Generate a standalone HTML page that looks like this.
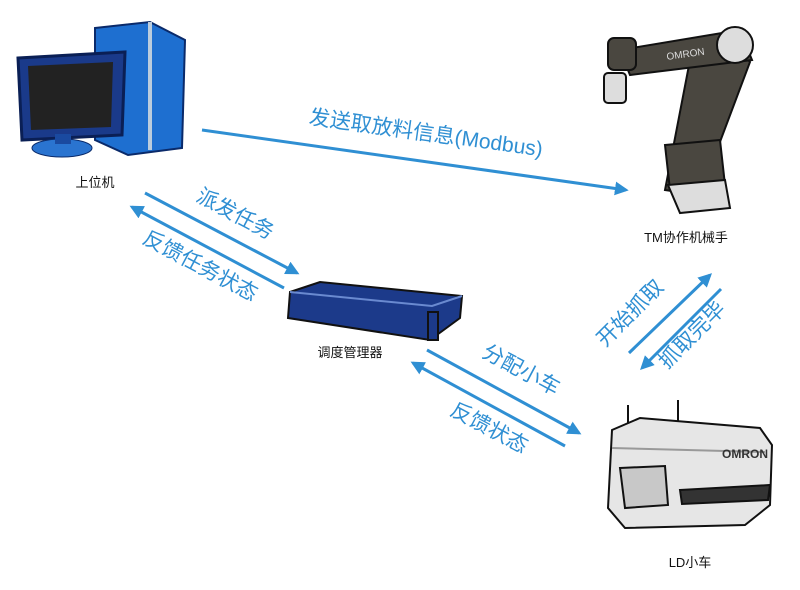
<!DOCTYPE html>
<html><head><meta charset="utf-8"><style>
html,body{margin:0;padding:0;background:#fff;width:800px;height:590px;overflow:hidden}
svg{display:block}
.l{font-family:"Liberation Sans","Noto Sans CJK SC",sans-serif;font-size:13px;fill:#111}
.b{font-family:"Liberation Sans","Noto Sans CJK SC",sans-serif;font-size:21px;fill:#2f8fd3}
</style></head><body>
<svg width="800" height="590" viewBox="0 0 800 590" xmlns="http://www.w3.org/2000/svg">
<defs>
<marker id="a" viewBox="0 0 10 10" refX="8" refY="5" markerWidth="4.6" markerHeight="4.6" orient="auto-start-reverse"><path d="M0,0 L10,5 L0,10 z" fill="#2f8fd3"/></marker>
</defs>
<g stroke="#2f8fd3" stroke-width="3" fill="none">
<line x1="202" y1="130" x2="626" y2="190" marker-end="url(#a)"/>
<line x1="145" y1="193" x2="297" y2="273" marker-end="url(#a)"/>
<line x1="284" y1="288" x2="132" y2="207" marker-end="url(#a)"/>
<line x1="427" y1="350" x2="579" y2="433" marker-end="url(#a)"/>
<line x1="565" y1="446" x2="413" y2="363" marker-end="url(#a)"/>
<line x1="629" y1="353" x2="710" y2="275" marker-end="url(#a)"/>
<line x1="721" y1="289" x2="642" y2="368" marker-end="url(#a)"/>
</g>
<text class="b" transform="translate(425,140) rotate(8)" text-anchor="middle">发送取放料信息(Modbus)</text>
<text class="b" transform="translate(232,220) rotate(28)" text-anchor="middle">派发任务</text>
<text class="b" transform="translate(197,272) rotate(28)" text-anchor="middle">反馈任务状态</text>
<text class="b" transform="translate(518,376) rotate(28)" text-anchor="middle">分配小车</text>
<text class="b" transform="translate(486,434) rotate(28)" text-anchor="middle">反馈状态</text>
<text class="b" transform="translate(635,318) rotate(-45)" text-anchor="middle">开始抓取</text>
<text class="b" transform="translate(697,340) rotate(-45)" text-anchor="middle">抓取完毕</text>

<!-- computer -->
<g>
<path d="M95,28 L150,22 L185,40 L182,148 L128,155 L95,140 z" fill="#1e6fd0" stroke="#0a2a6a" stroke-width="2"/>
<path d="M150,22 L150,150" stroke="#bcd" stroke-width="4"/>
<path d="M18,58 L125,52 L122,135 L22,140 z" fill="#1a3a8a" stroke="#0a1f55" stroke-width="3"/>
<path d="M28,66 L113,62 L111,127 L31,130 z" fill="#222"/>
<ellipse cx="62" cy="148" rx="30" ry="9" fill="#2a74d0" stroke="#0a2a6a"/>
<rect x="55" y="134" width="16" height="10" fill="#1a4aa0"/>
</g>
<!-- robot arm -->
<g stroke="#111" stroke-width="2">
<path d="M690,60 L735,45 L750,62 L700,195 L665,190 z" fill="#4a4740"/>
<path d="M620,50 L740,30 L752,60 L630,75 z" fill="#4a4740"/>
<ellipse cx="735" cy="45" rx="18" ry="18" fill="#ddd"/>
<rect x="608" y="38" width="28" height="32" rx="6" fill="#4a4740"/>
<rect x="604" y="73" width="22" height="30" rx="4" fill="#ddd"/>
<path d="M665,145 L720,140 L725,185 L670,190 z" fill="#4a4740"/>
<path d="M668,185 L725,180 L730,208 L680,213 z" fill="#ddd"/>
</g>
<text x="667" y="60" font-family="Liberation Sans" font-size="10" fill="#ddd" transform="rotate(-8 667 60)">OMRON</text>
<!-- server -->
<g stroke="#111" stroke-width="2">
<path d="M290,292 L320,282 L462,296 L460,318 L430,340 L288,318 z" fill="#1c3a8a"/>
<path d="M290,292 L432,306 L462,296" fill="none" stroke="#6a8ad0"/>
<rect x="428" y="312" width="10" height="28" fill="#1c3a8a"/>
</g>
<!-- LD cart -->
<g stroke="#111" stroke-width="2">
<line x1="628" y1="405" x2="628" y2="430"/><line x1="678" y1="400" x2="678" y2="430"/>
<path d="M612,430 L640,418 L760,428 L772,445 L770,505 L745,525 L625,528 L608,508 z" fill="#e6e6e6"/>
<path d="M612,448 L765,452" fill="none" stroke="#999"/>
<path d="M620,468 L665,466 L668,505 L625,508 z" fill="#c8c8c8"/>
<path d="M680,490 L770,485 L768,500 L682,504 z" fill="#333"/>
</g>
<text x="722" y="458" font-family="Liberation Sans" font-size="12" font-weight="bold" fill="#333">OMRON</text>

<text class="l" x="95" y="187" text-anchor="middle">上位机</text>
<text class="l" x="686" y="242" text-anchor="middle">TM协作机械手</text>
<text class="l" x="350" y="357" text-anchor="middle">调度管理器</text>
<text class="l" x="690" y="567" text-anchor="middle">LD小车</text>
</svg>
</body></html>
